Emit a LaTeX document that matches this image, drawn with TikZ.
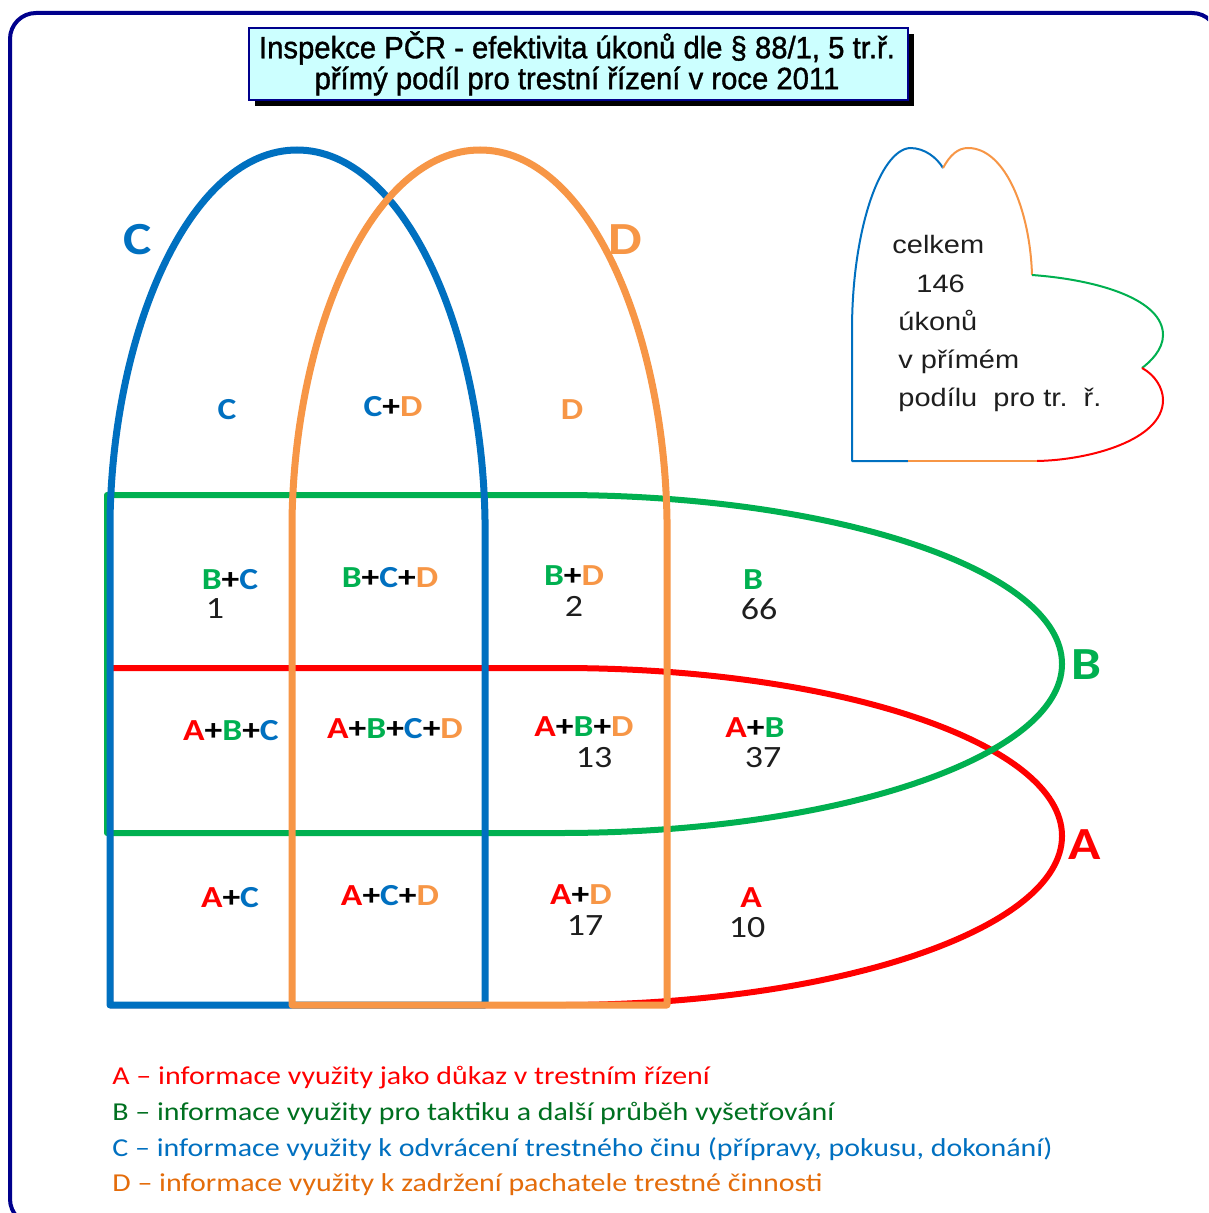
\documentclass[tikz,border=0pt]{standalone}
\usepackage{fontspec}
\newfontfamily\calib{Carlito}[FakeStretch=1.16]
\newfontfamily\arialw{Liberation Sans}[FakeStretch=1.15]
\newfontfamily\arialt{Liberation Sans}[FakeStretch=0.95,FakeBold=1.2]
\definecolor{cA}{RGB}{255,0,0}
\definecolor{cB}{RGB}{0,176,80}
\definecolor{cC}{RGB}{0,112,192}
\definecolor{cD}{RGB}{247,150,70}
\definecolor{lB}{RGB}{0,112,32}
\definecolor{lD}{RGB}{228,108,10}
\definecolor{navy}{RGB}{0,0,140}
\definecolor{titlefill}{RGB}{204,255,255}
\definecolor{numc}{RGB}{30,30,30}
\newcommand\LA{\textcolor{cA}{A}}
\newcommand\LB{\textcolor{cB}{B}}
\newcommand\LC{\textcolor{cC}{C}}
\newcommand\LD{\textcolor{cD}{D}}
\newcommand\PL{\textcolor{black}{+}}
\tikzset{
  cell/.style={font=\calib\bfseries\fontsize{15.3}{18}\selectfont, inner sep=0pt},
  num/.style={font=\calib\fontsize{15.5}{18}\selectfont, text=numc, inner sep=0pt},
  big/.style={font=\calib\bfseries\fontsize{23}{26}\selectfont, inner sep=0pt},
  legend/.style={font=\calib\fontsize{12.9}{15}\selectfont, anchor=base west, inner sep=0pt},
  hearttxt/.style={font=\arialw\fontsize{12.6}{15}\selectfont, anchor=base west, inner sep=0pt, text=numc},
  titletxt/.style={font=\arialt\fontsize{15.4}{18}\selectfont, inner sep=0pt},
  setA/.style={draw=cA, line width=3pt, line join=round},
  setB/.style={draw=cB, line width=3pt, line join=round},
  setC/.style={draw=cC, line width=3.5pt, line join=round},
  setD/.style={draw=cD, line width=3.5pt, line join=round},
  heartline/.style={line width=1pt, line join=round},
}
\begin{document}
\begin{tikzpicture}[x=0.5pt,y=-0.5pt]
\clip (0,0) rectangle (1208,1213);
\fill[white] (0,0) rectangle (1208,1213);
% frame
\draw[navy, line width=2pt, rounded corners=13pt] (10,13) rectangle (1218,1225);
% title
\fill[black] (255,34) rectangle (914,106);
\draw[navy, fill=titlefill, line width=1pt] (249,28) rectangle (908,100);
\node[titletxt] (t1) at (577,48) {Inspekce PČR - efektivita úkonů dle § 88/1, 5 tr.ř.};
\node[titletxt] (t2) at (577,81) {přímý podíl pro trestní řízení v roce 2011};
% set A (red)
\path[setA] (110,668) -- (560,668) .. controls (837,668) and (1062,743) .. (1062,836)
  .. controls (1062,929) and (837,1005) .. (560,1005) -- (110,1005) -- cycle;
% set B (green)
\path[setB] (107,495) -- (560,495) .. controls (837,495) and (1062,571) .. (1062,664)
  .. controls (1062,757) and (837,833) .. (560,833) -- (107,833) -- cycle;
% set C (blue)
\path[setC] (110,1005) -- (110,520) .. controls (113,330) and (190,150) .. (297,150)
  .. controls (404,150) and (482,330) .. (485,520) -- (485,1005) -- cycle;
% set D (orange)
\path[setD] (292,1005) -- (292,520) .. controls (295,330) and (372,150) .. (480,150)
  .. controls (588,150) and (664,330) .. (667,520) -- (667,1005) -- cycle;
% set labels
\node[big, text=cC] (labC) at (138,240) {C};
\node[big, text=cD] (labD) at (625,240) {D};
\node[big, text=cB] (labB) at (1086,665) {B};
\node[big, text=cA] (labA) at (1085,845) {A};
% cells
\node[cell] (c1) at (227,410) {\LC};
\node[cell] (c2) at (393,407) {\LC\PL\LD};
\node[cell] (c3) at (572,410) {\LD};
\node[cell] (c4) at (230,580) {\LB\PL\LC};
\node[num]  (n4) at (215,609) {1};
\node[cell] (c5) at (390,578) {\LB\PL\LC\PL\LD};
\node[cell] (c6) at (574,576) {\LB\PL\LD};
\node[num]  (n6) at (574,606) {2};
\node[cell] (c7) at (753,580) {\LB};
\node[num]  (n7) at (759,609) {66};
\node[cell] (c8) at (231,731) {\LA\PL\LB\PL\LC};
\node[cell] (c9) at (395,729) {\LA\PL\LB\PL\LC\PL\LD};
\node[cell] (c10) at (584,727) {\LA\PL\LB\PL\LD};
\node[num]  (n10) at (594,758) {13};
\node[cell] (c11) at (755,728) {\LA\PL\LB};
\node[num]  (n11) at (763,758) {37};
\node[cell] (c12) at (230,898) {\LA\PL\LC};
\node[cell] (c13) at (390,896) {\LA\PL\LC\PL\LD};
\node[cell] (c14) at (581,895) {\LA\PL\LD};
\node[num]  (n14) at (585,926) {17};
\node[cell] (c15) at (751,898) {\LA};
\node[num]  (n15) at (747,928) {10};
% heart shape
\draw[heartline, cC] (908,461) -- (852,461) -- (852,330) .. controls (852,230) and (880,150) .. (910,148)
  .. controls (925,148) and (937,158) .. (943,168);
\draw[heartline, cD] (943,168) .. controls (950,155) and (958,148) .. (968,148)
  .. controls (1005,148) and (1030,210) .. (1032,275);
\draw[heartline, cB] (1032,275) .. controls (1100,280) and (1163,300) .. (1163,335)
  .. controls (1163,350) and (1150,362) .. (1142,368);
\draw[heartline, cA] (1142,368) .. controls (1155,375) and (1163,388) .. (1163,400)
  .. controls (1163,440) and (1090,460) .. (1037,461);
\draw[heartline, cD] (1037,461) -- (908,461);
\node[hearttxt] (h1) at (892,254) {celkem};
\node[hearttxt] (h2) at (916,293) {146};
\node[hearttxt] (h3) at (898,331) {úkonů};
\node[hearttxt] (h4) at (898,369) {v přímém};
\node[hearttxt] (h5) at (898,407) {podílu\ \ pro tr.\ \ ř.};
% legend
\node[legend, text=cA] (l1) at (112,1084) {A – informace využity jako důkaz v trestním řízení};
\node[legend, text=lB] (l2) at (112,1120) {B – informace využity pro taktiku a další průběh vyšetřování};
\node[legend, text=cC] (l3) at (112,1156) {C – informace využity k odvrácení trestného činu (přípravy, pokusu, dokonání)};
\node[legend, text=lD] (l4) at (112,1191) {D – informace využity k zadržení pachatele trestné činnosti};
\end{tikzpicture}
\end{document}
